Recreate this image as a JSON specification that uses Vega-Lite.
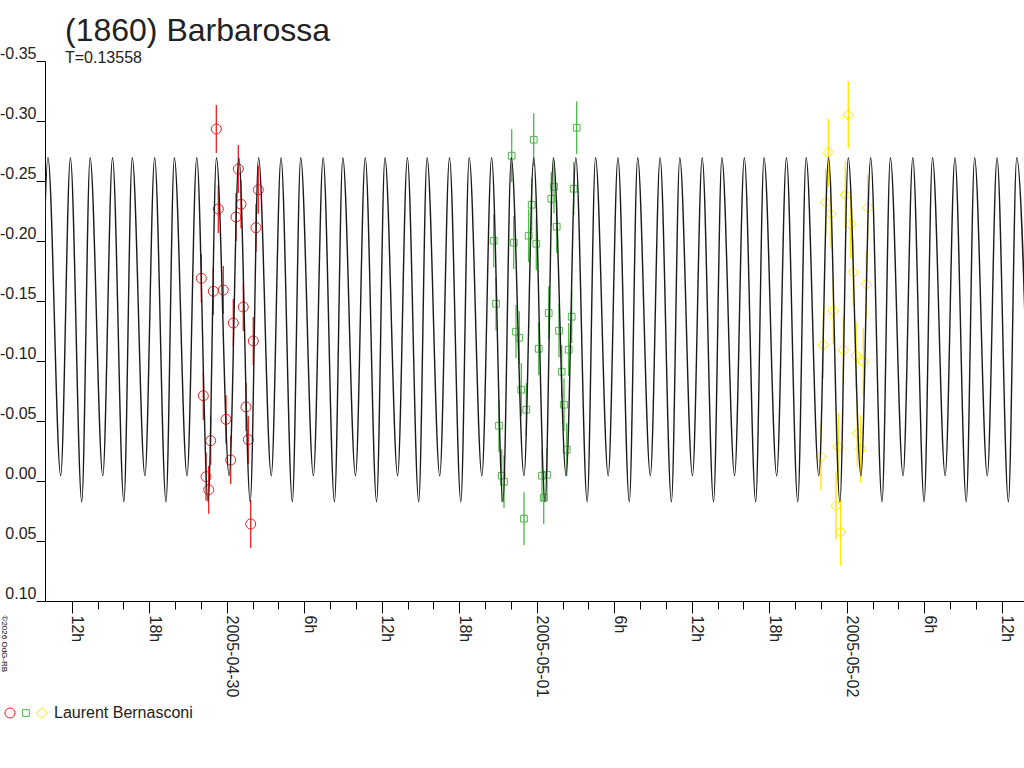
{
  "$schema": "https://vega.github.io/schema/vega-lite/v6.json",
  "width": 979,
  "height": 540,
  "autosize": {"type": "none"},
  "padding": {"left": 45, "top": 61, "right": 0, "bottom": 167},
  "background": "white",
  "title": {
    "text": "(1860) Barbarossa",
    "subtitle": "T=0.13558",
    "anchor": "start",
    "frame": "group",
    "font": "Liberation Sans",
    "fontSize": 32,
    "fontWeight": "normal",
    "color": "#222",
    "subtitleFont": "Liberation Sans",
    "subtitleFontSize": 16,
    "subtitleColor": "#222",
    "subtitlePadding": 2,
    "offset": -22,
    "dx": 20
  },
  "datasets": {
    "curve": [
      {"t": 9.5196, "mag": 0.0173}, {"t": 10.1660, "mag": -0.2694}, {"t": 11.1492, "mag": -0.0044},
      {"t": 11.9017, "mag": -0.2694}, {"t": 12.7804, "mag": 0.0173}, {"t": 13.4268, "mag": -0.2694}, {"t": 14.4100, "mag": -0.0044},
      {"t": 15.1625, "mag": -0.2694}, {"t": 16.0412, "mag": 0.0173}, {"t": 16.6876, "mag": -0.2694}, {"t": 17.6708, "mag": -0.0044},
      {"t": 18.4233, "mag": -0.2694}, {"t": 19.3020, "mag": 0.0173}, {"t": 19.9484, "mag": -0.2694}, {"t": 20.9316, "mag": -0.0044},
      {"t": 21.6841, "mag": -0.2694}, {"t": 22.5628, "mag": 0.0173}, {"t": 23.2092, "mag": -0.2694}, {"t": 24.1924, "mag": -0.0044},
      {"t": 24.9449, "mag": -0.2694}, {"t": 25.8236, "mag": 0.0173}, {"t": 26.4700, "mag": -0.2694}, {"t": 27.4532, "mag": -0.0044},
      {"t": 28.2057, "mag": -0.2694}, {"t": 29.0844, "mag": 0.0173}, {"t": 29.7308, "mag": -0.2694}, {"t": 30.7140, "mag": -0.0044},
      {"t": 31.4665, "mag": -0.2694}, {"t": 32.3452, "mag": 0.0173}, {"t": 32.9916, "mag": -0.2694}, {"t": 33.9748, "mag": -0.0044},
      {"t": 34.7273, "mag": -0.2694}, {"t": 35.6060, "mag": 0.0173}, {"t": 36.2524, "mag": -0.2694}, {"t": 37.2356, "mag": -0.0044},
      {"t": 37.9881, "mag": -0.2694}, {"t": 38.8668, "mag": 0.0173}, {"t": 39.5132, "mag": -0.2694}, {"t": 40.4964, "mag": -0.0044},
      {"t": 41.2489, "mag": -0.2694}, {"t": 42.1276, "mag": 0.0173}, {"t": 42.7740, "mag": -0.2694}, {"t": 43.7572, "mag": -0.0044},
      {"t": 44.5097, "mag": -0.2694}, {"t": 45.3884, "mag": 0.0173}, {"t": 46.0348, "mag": -0.2694}, {"t": 47.0180, "mag": -0.0044},
      {"t": 47.7705, "mag": -0.2694}, {"t": 48.6492, "mag": 0.0173}, {"t": 49.2956, "mag": -0.2694}, {"t": 50.2788, "mag": -0.0044},
      {"t": 51.0313, "mag": -0.2694}, {"t": 51.9100, "mag": 0.0173}, {"t": 52.5564, "mag": -0.2694}, {"t": 53.5396, "mag": -0.0044},
      {"t": 54.2921, "mag": -0.2694}, {"t": 55.1708, "mag": 0.0173}, {"t": 55.8172, "mag": -0.2694}, {"t": 56.8004, "mag": -0.0044},
      {"t": 57.5529, "mag": -0.2694}, {"t": 58.4316, "mag": 0.0173}, {"t": 59.0780, "mag": -0.2694}, {"t": 60.0612, "mag": -0.0044},
      {"t": 60.8137, "mag": -0.2694}, {"t": 61.6924, "mag": 0.0173}, {"t": 62.3388, "mag": -0.2694}, {"t": 63.3220, "mag": -0.0044},
      {"t": 64.0745, "mag": -0.2694}, {"t": 64.9532, "mag": 0.0173}, {"t": 65.5996, "mag": -0.2694}, {"t": 66.5828, "mag": -0.0044},
      {"t": 67.3353, "mag": -0.2694}, {"t": 68.2140, "mag": 0.0173}, {"t": 68.8604, "mag": -0.2694}, {"t": 69.8436, "mag": -0.0044},
      {"t": 70.5961, "mag": -0.2694}, {"t": 71.4748, "mag": 0.0173}, {"t": 72.1212, "mag": -0.2694}, {"t": 73.1044, "mag": -0.0044},
      {"t": 73.8569, "mag": -0.2694}, {"t": 74.7356, "mag": 0.0173}, {"t": 75.3820, "mag": -0.2694}, {"t": 76.3652, "mag": -0.0044},
      {"t": 77.1177, "mag": -0.2694}, {"t": 77.9964, "mag": 0.0173}, {"t": 78.6428, "mag": -0.2694}, {"t": 79.6260, "mag": -0.0044},
      {"t": 80.3785, "mag": -0.2694}, {"t": 81.2572, "mag": 0.0173}, {"t": 81.9036, "mag": -0.2694}, {"t": 82.8868, "mag": -0.0044},
      {"t": 83.6393, "mag": -0.2694}, {"t": 84.5180, "mag": 0.0173}, {"t": 85.1644, "mag": -0.2694}, {"t": 86.1476, "mag": -0.0044}
    ],
    "obs": [
      {"t": 23.197, "mag": -0.2933, "err": 0.02, "session": "2005-04-29/30"},
      {"t": 24.900, "mag": -0.2600, "err": 0.02, "session": "2005-04-29/30"},
      {"t": 26.449, "mag": -0.2427, "err": 0.02, "session": "2005-04-29/30"},
      {"t": 23.352, "mag": -0.2267, "err": 0.02, "session": "2005-04-29/30"},
      {"t": 25.109, "mag": -0.2306, "err": 0.02, "session": "2005-04-29/30"},
      {"t": 24.722, "mag": -0.2200, "err": 0.02, "session": "2005-04-29/30"},
      {"t": 26.270, "mag": -0.2111, "err": 0.02, "session": "2005-04-29/30"},
      {"t": 22.036, "mag": -0.1689, "err": 0.02, "session": "2005-04-29/30"},
      {"t": 22.965, "mag": -0.1581, "err": 0.02, "session": "2005-04-29/30"},
      {"t": 23.739, "mag": -0.1592, "err": 0.02, "session": "2005-04-29/30"},
      {"t": 25.287, "mag": -0.1450, "err": 0.02, "session": "2005-04-29/30"},
      {"t": 24.513, "mag": -0.1317, "err": 0.02, "session": "2005-04-29/30"},
      {"t": 26.061, "mag": -0.1167, "err": 0.02, "session": "2005-04-29/30"},
      {"t": 22.191, "mag": -0.0711, "err": 0.02, "session": "2005-04-29/30"},
      {"t": 25.496, "mag": -0.0617, "err": 0.02, "session": "2005-04-29/30"},
      {"t": 23.948, "mag": -0.0514, "err": 0.02, "session": "2005-04-29/30"},
      {"t": 22.763, "mag": -0.0336, "err": 0.02, "session": "2005-04-29/30"},
      {"t": 25.674, "mag": -0.0344, "err": 0.02, "session": "2005-04-29/30"},
      {"t": 24.312, "mag": -0.0175, "err": 0.02, "session": "2005-04-29/30"},
      {"t": 22.400, "mag": -0.0036, "err": 0.02, "session": "2005-04-29/30"},
      {"t": 22.609, "mag": 0.0073, "err": 0.02, "session": "2005-04-29/30"},
      {"t": 25.860, "mag": 0.0358, "err": 0.02, "session": "2005-04-29/30"},
      {"t": 46.066, "mag": -0.2711, "err": 0.022, "session": "2005-04-30/05-01"},
      {"t": 47.769, "mag": -0.2844, "err": 0.022, "session": "2005-04-30/05-01"},
      {"t": 51.098, "mag": -0.2944, "err": 0.022, "session": "2005-04-30/05-01"},
      {"t": 49.341, "mag": -0.2452, "err": 0.022, "session": "2005-04-30/05-01"},
      {"t": 50.866, "mag": -0.2436, "err": 0.022, "session": "2005-04-30/05-01"},
      {"t": 49.132, "mag": -0.2352, "err": 0.022, "session": "2005-04-30/05-01"},
      {"t": 47.615, "mag": -0.2302, "err": 0.022, "session": "2005-04-30/05-01"},
      {"t": 49.550, "mag": -0.2119, "err": 0.022, "session": "2005-04-30/05-01"},
      {"t": 47.382, "mag": -0.2044, "err": 0.022, "session": "2005-04-30/05-01"},
      {"t": 44.673, "mag": -0.2002, "err": 0.022, "session": "2005-04-30/05-01"},
      {"t": 46.221, "mag": -0.1986, "err": 0.022, "session": "2005-04-30/05-01"},
      {"t": 47.971, "mag": -0.1977, "err": 0.022, "session": "2005-04-30/05-01"},
      {"t": 44.851, "mag": -0.1477, "err": 0.022, "session": "2005-04-30/05-01"},
      {"t": 48.930, "mag": -0.1400, "err": 0.022, "session": "2005-04-30/05-01"},
      {"t": 50.711, "mag": -0.1369, "err": 0.022, "session": "2005-04-30/05-01"},
      {"t": 49.728, "mag": -0.1252, "err": 0.022, "session": "2005-04-30/05-01"},
      {"t": 46.399, "mag": -0.1244, "err": 0.022, "session": "2005-04-30/05-01"},
      {"t": 46.654, "mag": -0.1194, "err": 0.022, "session": "2005-04-30/05-01"},
      {"t": 48.157, "mag": -0.1102, "err": 0.022, "session": "2005-04-30/05-01"},
      {"t": 50.479, "mag": -0.1094, "err": 0.022, "session": "2005-04-30/05-01"},
      {"t": 49.937, "mag": -0.0911, "err": 0.022, "session": "2005-04-30/05-01"},
      {"t": 46.809, "mag": -0.0761, "err": 0.022, "session": "2005-04-30/05-01"},
      {"t": 50.115, "mag": -0.0636, "err": 0.022, "session": "2005-04-30/05-01"},
      {"t": 47.196, "mag": -0.0594, "err": 0.022, "session": "2005-04-30/05-01"},
      {"t": 45.083, "mag": -0.0461, "err": 0.022, "session": "2005-04-30/05-01"},
      {"t": 50.324, "mag": -0.0261, "err": 0.022, "session": "2005-04-30/05-01"},
      {"t": 45.292, "mag": -0.0044, "err": 0.022, "session": "2005-04-30/05-01"},
      {"t": 48.412, "mag": -0.0044, "err": 0.022, "session": "2005-04-30/05-01"},
      {"t": 48.799, "mag": -0.0052, "err": 0.022, "session": "2005-04-30/05-01"},
      {"t": 45.470, "mag": 0.0006, "err": 0.022, "session": "2005-04-30/05-01"},
      {"t": 48.544, "mag": 0.0139, "err": 0.022, "session": "2005-04-30/05-01"},
      {"t": 47.018, "mag": 0.0314, "err": 0.022, "session": "2005-04-30/05-01"},
      {"t": 72.124, "mag": -0.3050, "err": 0.028, "session": "2005-05-01/02"},
      {"t": 70.576, "mag": -0.2736, "err": 0.028, "session": "2005-05-01/02"},
      {"t": 71.892, "mag": -0.2383, "err": 0.028, "session": "2005-05-01/02"},
      {"t": 70.375, "mag": -0.2322, "err": 0.028, "session": "2005-05-01/02"},
      {"t": 70.785, "mag": -0.2225, "err": 0.028, "session": "2005-05-01/02"},
      {"t": 73.627, "mag": -0.2277, "err": 0.028, "session": "2005-05-01/02"},
      {"t": 72.311, "mag": -0.2139, "err": 0.028, "session": "2005-05-01/02"},
      {"t": 72.512, "mag": -0.1739, "err": 0.028, "session": "2005-05-01/02"},
      {"t": 73.518, "mag": -0.1639, "err": 0.028, "session": "2005-05-01/02"},
      {"t": 70.963, "mag": -0.1417, "err": 0.028, "session": "2005-05-01/02"},
      {"t": 70.189, "mag": -0.1133, "err": 0.028, "session": "2005-05-01/02"},
      {"t": 71.738, "mag": -0.1092, "err": 0.028, "session": "2005-05-01/02"},
      {"t": 72.721, "mag": -0.1044, "err": 0.028, "session": "2005-05-01/02"},
      {"t": 73.286, "mag": -0.0994, "err": 0.028, "session": "2005-05-01/02"},
      {"t": 72.822, "mag": -0.0397, "err": 0.028, "session": "2005-05-01/02"},
      {"t": 73.085, "mag": -0.0267, "err": 0.028, "session": "2005-05-01/02"},
      {"t": 71.351, "mag": -0.0286, "err": 0.028, "session": "2005-05-01/02"},
      {"t": 70.011, "mag": -0.0200, "err": 0.028, "session": "2005-05-01/02"},
      {"t": 71.173, "mag": 0.0208, "err": 0.028, "session": "2005-05-01/02"},
      {"t": 71.537, "mag": 0.0425, "err": 0.028, "session": "2005-05-01/02"}
    ]
  },
  "encoding": {
    "x": {
      "field": "t",
      "type": "quantitative",
      "scale": {"domain": [9.935, 85.727], "nice": false, "zero": false},
      "axis": {
        "title": null,
        "grid": false,
        "values": [12, 14, 16, 18, 20, 22, 24, 26, 28, 30, 32, 34, 36, 38, 40, 42, 44, 46, 48, 50, 52, 54, 56, 58, 60, 62, 64, 66, 68, 70, 72, 74, 76, 78, 80, 82, 84],
        "domainColor": "#000",
        "tickColor": "#000",
        "tickSize": {"condition": {"test": "datum.value % 6 == 0", "value": 12}, "value": 8},
        "labelAngle": 90,
        "labelAlign": "left",
        "labelBaseline": "alphabetic",
        "labelPadding": 2,
        "labelFont": "Liberation Sans",
        "labelFontSize": 16,
        "labelColor": "#222",
        "labelOverlap": false,
        "labelFlush": false,
        "labelExpr": "datum.value % 6 != 0 ? '' : datum.value == 24 ? '2005-04-30' : datum.value == 48 ? '2005-05-01' : datum.value == 72 ? '2005-05-02' : (datum.value % 24) + 'h'"
      }
    },
    "y": {
      "field": "mag",
      "type": "quantitative",
      "scale": {"domain": [-0.35, 0.1], "reverse": true, "nice": false, "zero": false},
      "axis": {
        "grid": false,
        "values": [-0.35, -0.3, -0.25, -0.2, -0.15, -0.1, -0.05, 0, 0.05, 0.1],
        "domainColor": "#000",
        "tickColor": "#000",
        "tickSize": 9,
        "labelPadding": 0,
        "labelFont": "Liberation Sans",
        "labelFontSize": 16,
        "labelColor": "#222",
        "labelBaseline": "alphabetic",
        "labelOffset": -3,
        "labelOverlap": false,
        "labelFlush": false,
        "labelExpr": "(datum.value < 0 ? '-' : '') + format(abs(datum.value), '.2f')",
        "title": "©2026 OdG-RB",
        "titleAngle": 90,
        "titleX": -44,
        "titleY": 554,
        "titleAlign": "left",
        "titleBaseline": "alphabetic",
        "titleFont": "Liberation Sans",
        "titleFontSize": 8,
        "titleFontWeight": "normal",
        "titleColor": "#000"
      }
    }
  },
  "layer": [
    {
      "data": {"name": "obs"},
      "mark": {"type": "errorbar", "ticks": false, "thickness": 1.3},
      "encoding": {
        "yError": {"field": "err"},
        "color": {
          "field": "session",
          "type": "nominal",
          "scale": {"domain": ["2005-04-29/30", "2005-04-30/05-01", "2005-05-01/02"], "range": ["#f02020", "#4cb848", "#ffe600"]}
        }
      }
    },
    {
      "data": {"name": "obs"},
      "mark": {"type": "point", "filled": false, "strokeWidth": 1, "opacity": 1},
      "encoding": {
        "color": {
          "field": "session",
          "type": "nominal",
          "legend": {
            "orient": "none",
            "legendX": -43,
            "legendY": 644,
            "direction": "horizontal",
            "gridAlign": "none",
            "title": null,
            "padding": 0,
            "columnPadding": -4,
            "labelOffset": 4,
            "labelFont": "Liberation Sans",
            "labelFontSize": 16,
            "labelColor": "#222",
            "symbolStrokeWidth": 1,
            "labelExpr": "datum.value == '2005-05-01/02' ? 'Laurent Bernasconi' : ''"
          }
        },
        "shape": {
          "field": "session",
          "type": "nominal",
          "scale": {"domain": ["2005-04-29/30", "2005-04-30/05-01", "2005-05-01/02"], "range": ["circle", "square", "diamond"]}
        },
        "size": {
          "field": "session",
          "type": "nominal",
          "scale": {"type": "ordinal", "domain": ["2005-04-29/30", "2005-04-30/05-01", "2005-05-01/02"], "range": [100, 45, 115]}
        }
      }
    },
    {
      "data": {"name": "curve"},
      "mark": {"type": "line", "interpolate": "monotone", "color": "#1a1a1a", "strokeWidth": 1.4, "clip": true}
    }
  ],
  "config": {
    "view": {"stroke": null},
    "font": "Liberation Sans"
  }
}
